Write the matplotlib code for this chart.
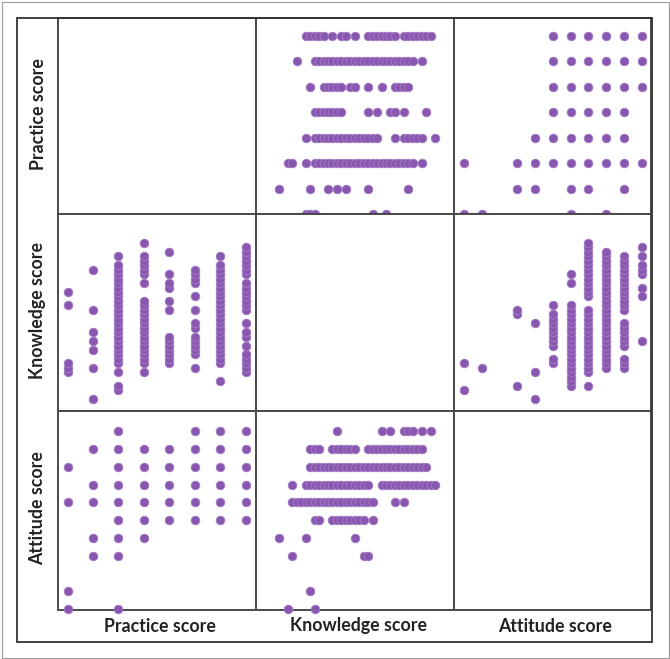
import matplotlib
matplotlib.use("Agg")
import matplotlib.pyplot as plt
from matplotlib.patches import Rectangle

# ---------------- data ----------------
labels = ["Practice score", "Knowledge score", "Attitude score"]

practice_levels = [0, 1, 2, 3, 4, 5, 6, 7]
attitude_by_practice = [
    [0, 1, 6, 8],
    [3, 4, 6, 7, 9],
    [0, 3, 4, 5, 6, 7, 8, 9, 10],
    [4, 5, 6, 7, 8, 9],
    [5, 6, 7, 8, 9],
    [5, 6, 7, 8, 9, 10],
    [5, 6, 7, 8, 9, 10],
    [5, 6, 7, 8, 9, 10],
]
knowledge_by_practice = [
    [6, 7, 8, 21, 24],
    [0, 7, 11, 13, 15, 20, 29],
    [2, 3, 6, 8, 9, 10, 11, 12, 13, 14, 15, 16, 17, 18, 19, 20, 21, 22, 23, 24, 25, 26, 27, 28, 29, 30, 32],
    [6, 8, 9, 10, 11, 12, 13, 14, 15, 16, 17, 18, 19, 20, 21, 22, 26, 28, 29, 30, 31, 32, 35],
    [8, 9, 10, 11, 12, 13, 14, 20, 22, 25, 26, 28, 33],
    [7, 10, 11, 12, 13, 14, 16, 17, 20, 23, 26, 27, 28, 29],
    [4, 8, 9, 10, 11, 12, 13, 14, 15, 16, 17, 18, 19, 20, 21, 22, 23, 24, 25, 26, 27, 28, 29, 30, 32],
    [6, 7, 8, 9, 10, 12, 14, 15, 17, 20, 21, 22, 23, 24, 25, 26, 28, 29, 30, 31, 32, 33, 34],
]
attitude_levels = [0, 1, 3, 4, 5, 6, 7, 8, 9, 10]
knowledge_by_attitude = [
    [2, 8],
    [7],
    [3, 19, 20],
    [0, 6, 17],
    [8, 9, 12, 13, 14, 15, 16, 17, 18, 19, 21],
    [3, 4, 5, 6, 7, 8, 9, 10, 11, 12, 13, 14, 15, 16, 17, 18, 19, 20, 21, 26, 28],
    [3, 6, 7, 8, 9, 10, 11, 12, 13, 14, 15, 16, 17, 18, 19, 20, 23, 24, 25, 26, 27, 28, 29, 30, 31, 32, 33, 34, 35],
    [7, 8, 9, 10, 11, 12, 13, 14, 15, 16, 17, 18, 19, 20, 21, 22, 23, 24, 25, 26, 27, 28, 29, 30, 31, 32, 33],
    [7, 8, 9, 12, 13, 14, 15, 16, 17, 20, 21, 22, 23, 24, 25, 26, 27, 28, 29, 30, 31, 32],
    [13, 23, 25, 28, 29, 30, 32, 34],
]

# build pair arrays
def expand(levels, groups):
    a, b = [], []
    for lv, g in zip(levels, groups):
        for v in g:
            a.append(lv)
            b.append(v)
    return a, b

pa_p, pa_a = expand(practice_levels, attitude_by_practice)
pk_p, pk_k = expand(practice_levels, knowledge_by_practice)
ka_a, ka_k = expand(attitude_levels, knowledge_by_attitude)

values = {
    (0, 1): (pk_k, pk_p), (1, 0): (pk_p, pk_k),
    (0, 2): (pa_a, pa_p), (2, 0): (pa_p, pa_a),
    (1, 2): (ka_a, ka_k), (2, 1): (ka_k, ka_a),
}

# ---------------- layout ----------------
W, H = 670, 659
fig = plt.figure(figsize=(W / 100, H / 100), dpi=100)

col_edges = [58, 256, 454, 651]
row_edges = [18, 214, 411, 610]
xlims = [(-0.38, 7.41), (-5.16, 39.26), (-0.56, 10.52)]
ylims = [(0.0, 7.71), (-2.69, 41.5), (-0.05, 11.14)]

purple = "#8956b0"
line_col = "#4a4a4a"

for r in range(3):
    for c in range(3):
        x0, x1 = col_edges[c], col_edges[c + 1]
        y0, y1 = row_edges[r], row_edges[r + 1]
        ax = fig.add_axes([x0 / W, 1 - y1 / H, (x1 - x0) / W, (y1 - y0) / H])
        ax.set_xlim(*xlims[c])
        ax.set_ylim(*ylims[r])
        ax.set_xticks([])
        ax.set_yticks([])
        for s in ax.spines.values():
            s.set_color(line_col)
            s.set_linewidth(1.4)
        if (r, c) in values:
            xs, ys = values[(r, c)]
            ax.plot(xs, ys, "o", color=purple, markersize=6.2,
                    markeredgewidth=0.6, markeredgecolor="#a27cc4",
                    clip_on=False, zorder=3)

# bottom labels
for c, lab in enumerate(labels):
    xc = (col_edges[c] + col_edges[c + 1]) / 2 + 3
    fig.text(xc / W, 1 - 626 / H, lab, ha="center", va="center",
             fontsize=12.8, fontweight="bold", family="Lato", color="#222222")
# left labels
for r, lab in enumerate(labels):
    yc = (row_edges[r] + row_edges[r + 1]) / 2 - 2
    fig.text(38 / W, 1 - yc / H, lab, ha="center", va="center", rotation=90,
             fontsize=12.8, fontweight="bold", family="Lato", color="#222222")

# inner frame
fig.patches.append(Rectangle((17 / W, 1 - 642 / H), (652 - 17) / W, (642 - 18) / H,
                             transform=fig.transFigure, fill=False,
                             edgecolor="#333333", linewidth=1.3, zorder=0))
# outer light border
fig.patches.append(Rectangle((1.5 / W, 1.5 / H), (W - 3) / W, (H - 3) / H,
                             transform=fig.transFigure, fill=False,
                             edgecolor="#9a9a9a", linewidth=0.8, zorder=0))

fig.savefig("out.png", dpi=100)
